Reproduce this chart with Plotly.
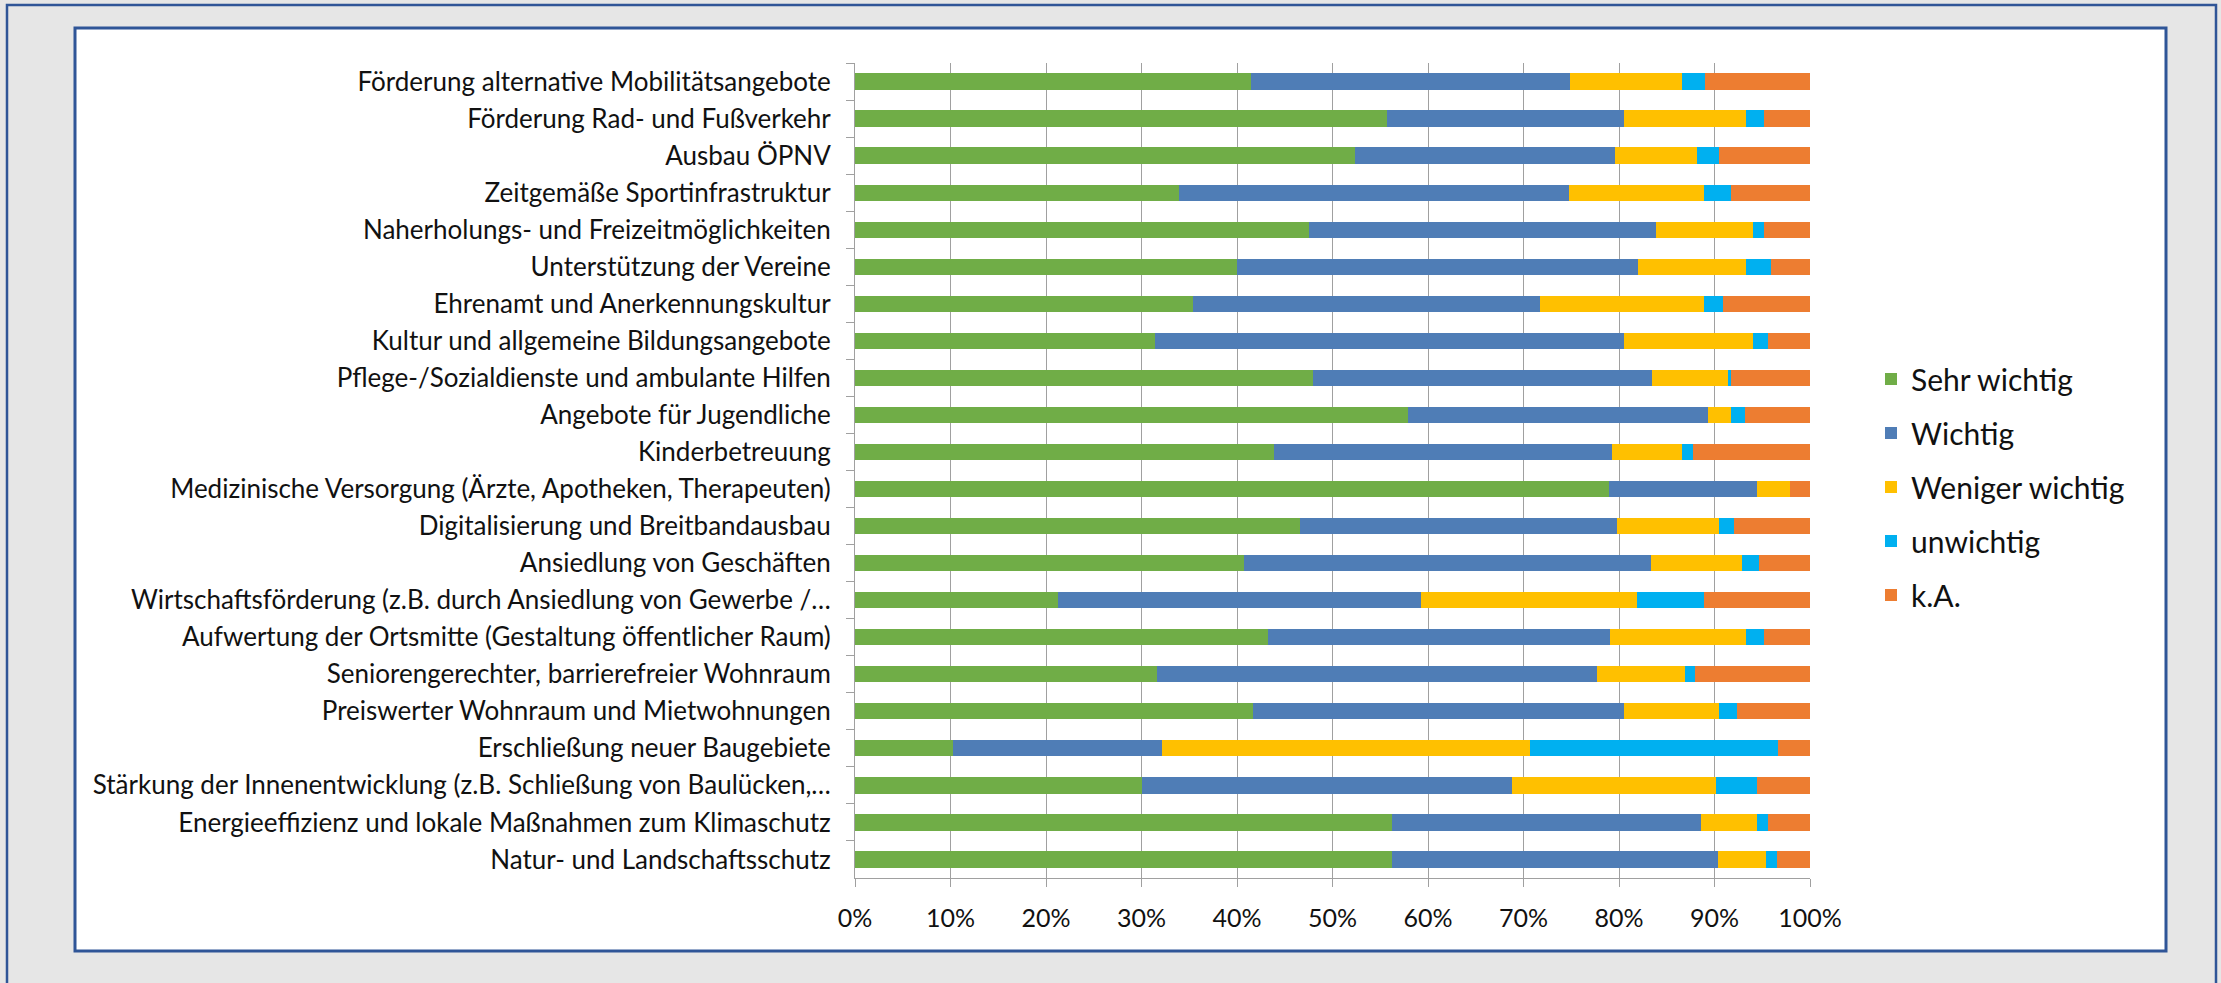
import plotly.graph_objects as go

# Themen (von oben nach unten)
categories = [
    "Förderung alternative Mobilitätsangebote",
    "Förderung Rad- und Fußverkehr",
    "Ausbau ÖPNV",
    "Zeitgemäße Sportinfrastruktur",
    "Naherholungs- und Freizeitmöglichkeiten",
    "Unterstützung der Vereine",
    "Ehrenamt und Anerkennungskultur",
    "Kultur und allgemeine Bildungsangebote",
    "Pflege-/Sozialdienste und ambulante Hilfen",
    "Angebote für Jugendliche",
    "Kinderbetreuung",
    "Medizinische Versorgung (Ärzte, Apotheken, Therapeuten)",
    "Digitalisierung und Breitbandausbau",
    "Ansiedlung von Geschäften",
    "Wirtschaftsförderung (z.B. durch Ansiedlung von Gewerbe /…",
    "Aufwertung der Ortsmitte (Gestaltung öffentlicher Raum)",
    "Seniorengerechter, barrierefreier Wohnraum",
    "Preiswerter Wohnraum und Mietwohnungen",
    "Erschließung neuer Baugebiete",
    "Stärkung der Innenentwicklung (z.B. Schließung von Baulücken,…",
    "Energieeffizienz und lokale Maßnahmen zum Klimaschutz",
    "Natur- und Landschaftsschutz",
]

# Anteile in Prozent je Antwortkategorie
sehr_wichtig = [41.5, 55.7, 52.4, 33.9, 47.5, 40.0, 35.4, 31.4, 48.0, 57.9, 43.9,
                79.0, 46.6, 40.7, 21.3, 43.2, 31.6, 41.7, 10.3, 30.1, 56.2, 56.2]
wichtig = [33.4, 24.8, 27.2, 40.9, 36.4, 42.0, 36.3, 49.1, 35.5, 31.4, 35.4,
           15.5, 33.2, 42.6, 38.0, 35.9, 46.1, 38.8, 21.8, 38.7, 32.4, 34.2]
weniger_wichtig = [11.7, 12.8, 8.6, 14.1, 10.1, 11.3, 17.2, 13.5, 7.9, 2.4, 7.3,
                   3.4, 10.7, 9.6, 22.6, 14.2, 9.2, 10.0, 38.6, 21.4, 5.9, 5.0]
unwichtig = [2.4, 1.9, 2.3, 2.8, 1.2, 2.6, 2.0, 1.6, 0.3, 1.5, 1.1,
             0.0, 1.5, 1.8, 7.0, 1.9, 1.1, 1.9, 26.0, 4.3, 1.1, 1.1]
keine_angabe = [11.0, 4.8, 9.5, 8.3, 4.8, 4.1, 9.1, 4.4, 8.3, 6.8, 12.3,
                2.1, 8.0, 5.3, 11.1, 4.8, 12.0, 7.6, 3.3, 5.5, 4.4, 3.5]

series_names = ["Sehr wichtig", "Wichtig", "Weniger wichtig", "unwichtig", "k.A."]
series_values = [sehr_wichtig, wichtig, weniger_wichtig, unwichtig, keine_angabe]
series_colors = ["#70AD47", "#4F7DB6", "#FFC000", "#00B0F0", "#ED7D31"]

x_ticks = list(range(0, 101, 10))
x_tick_labels = [f"{v}%" for v in x_ticks]

FONT = "Lato, 'Open Sans', sans-serif"
GRID = "#A0A0A0"
FRAME = "#2F5597"

fig = go.Figure()
for name, vals, color in zip(series_names, series_values, series_colors):
    fig.add_trace(go.Bar(
        y=categories, x=vals, name=name, orientation="h",
        marker=dict(color=color, line=dict(width=0)),
        legendgroup=name,
    ))

# plot area in pixels: x 855..1810, y 63..878 (figure 2221 x 983)
L, R, T, B = 855, 1810, 63, 878
W, H = R - L, B - T


def px(xp):
    return (xp - L) / W


def py(yp):
    return (B - yp) / H


shapes = [
    # outer frame
    dict(type="rect", xref="paper", yref="paper",
         x0=px(7), x1=px(2216), y0=py(995), y1=py(5),
         line=dict(color=FRAME, width=2.5), fillcolor="rgba(0,0,0,0)", layer="below"),
    # inner white panel
    dict(type="rect", xref="paper", yref="paper",
         x0=px(75), x1=px(2166), y0=py(951), y1=py(28),
         line=dict(color=FRAME, width=3), fillcolor="white", layer="below"),
]

fig.update_layout(
    width=2221, height=983,
    margin=dict(l=L, r=2221 - R, t=T, b=983 - B, autoexpand=False),
    paper_bgcolor="#E6E6E6",
    plot_bgcolor="white",
    barmode="stack",
    bargap=0.56,
    font=dict(family=FONT, size=26, color="#111111"),
    shapes=shapes,
    showlegend=True,
    legend=dict(
        x=px(1871), xanchor="left", y=py(487), yanchor="middle",
        font=dict(family=FONT, size=30, color="#111111"),
        bgcolor="rgba(0,0,0,0)", traceorder="grouped", tracegroupgap=12,
    ),
    xaxis=dict(
        range=[0, 100], tickvals=x_ticks, ticktext=x_tick_labels,
        showgrid=True, gridcolor=GRID, gridwidth=1,
        showline=True, linecolor=GRID, linewidth=1,
        ticks="outside", ticklen=8, tickcolor=GRID,
        zeroline=False, ticklabelstandoff=10,
        tickfont=dict(family=FONT, size=25, color="#111111"),
    ),
    yaxis=dict(
        type="category", autorange="reversed",
        showgrid=False, showline=True, linecolor=GRID, linewidth=1,
        ticks="outside", ticklen=8, tickcolor=GRID, tickson="boundaries",
        ticklabelstandoff=18,
        tickfont=dict(family=FONT, size=26, color="#111111"),
    ),
)

fig.write_html("out.html")
